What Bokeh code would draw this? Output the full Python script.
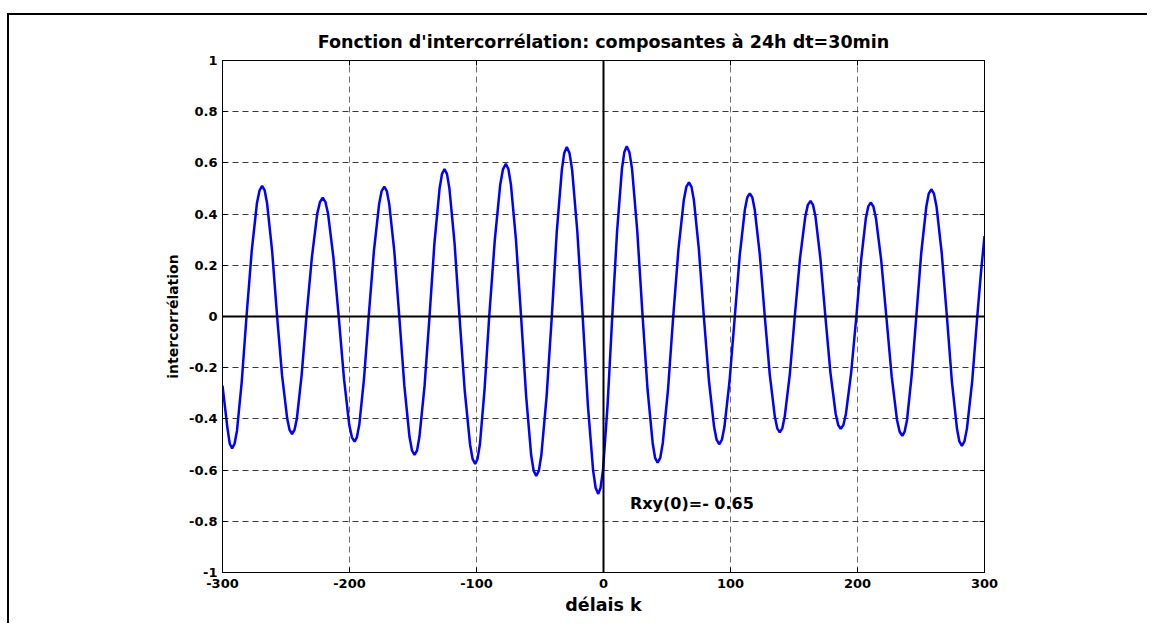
from bokeh.plotting import figure
from bokeh.models import Range1d, FixedTicker, LinearAxis, Span, Label
from bokeh.embed import file_html
from bokeh.resources import INLINE

# ---- data ----
k = [-300, -296.2, -294.3, -292.4, -290.5, -288.6, -284.9, -281.1, -277.0, -272.9,
     -270.8, -268.8, -266.8, -264.9, -260.9, -257.0, -253.1, -249.1, -247.2, -245.2,
     -243.3, -241.4, -237.7, -233.9, -229.6, -225.4, -223.2, -221.1, -219.0, -216.9,
     -212.7, -208.5, -204.3, -200.2, -198.1, -196.0, -194.2, -192.3, -188.6, -184.9,
     -180.8, -176.7, -174.7, -172.6, -170.6, -168.7, -164.7, -160.8, -156.8, -152.8,
     -150.8, -148.8, -146.8, -144.9, -140.9, -137.0, -133.1, -129.1, -127.2, -125.2,
     -123.2, -121.3, -117.3, -113.4, -109.3, -105.1, -103.1, -101.0, -99.2, -97.3,
     -93.7, -90.0, -85.6, -81.3, -79.1, -76.9, -74.9, -72.9, -68.9, -64.9,
     -60.9, -57.0, -55.0, -53.0, -50.9, -48.9, -44.8, -40.7, -36.8, -32.8,
     -30.9, -28.9, -26.8, -24.7, -20.6, -16.4, -12.3, -8.2, -6.2, -4.1,
     -2.3, -0.4, 3.2, 6.9, 10.7, 14.5, 16.4, 18.3, 20.4, 22.5,
     26.6, 30.8, 34.7, 38.7, 40.6, 42.6, 44.7, 46.7, 50.8, 54.9,
     59.0, 63.2, 65.2, 67.3, 69.3, 71.2, 75.1, 79.0, 83.0, 87.1,
     89.1, 91.1, 93.2, 95.2, 99.3, 103.4, 107.3, 111.3, 113.2, 115.2,
     117.2, 119.1, 123.1, 127.0, 130.9, 134.9, 136.8, 138.8, 140.8, 142.7,
     146.7, 150.6, 154.7, 158.9, 160.9, 163.0, 165.0, 166.9, 170.8, 174.7,
     178.7, 182.8, 184.8, 186.8, 188.9, 190.9, 195.0, 199.1, 202.9, 206.6,
     208.5, 210.4, 212.5, 214.5, 218.6, 222.7, 226.9, 231.1, 233.2, 235.3,
     237.1, 239.0, 242.6, 246.3, 250.2, 254.2, 256.1, 258.1, 260.2, 262.2,
     266.3, 270.4, 274.3, 278.3, 280.2, 282.2, 284.2, 286.2, 290.3, 294.3,
     297.2, 300.0]

rxy = [-0.270, -0.432, -0.497, -0.515, -0.497, -0.446, -0.258, 0.000, 0.255, 0.442,
       0.493, 0.510, 0.493, 0.442, 0.255, 0.000, -0.230, -0.397, -0.443, -0.459,
       -0.443, -0.397, -0.230, 0.000, 0.232, 0.402, 0.448, 0.464, 0.448, 0.402,
       0.232, 0.000, -0.245, -0.423, -0.472, -0.489, -0.472, -0.423, -0.245, 0.000,
       0.254, 0.439, 0.490, 0.507, 0.490, 0.439, 0.254, 0.000, -0.271, -0.469,
       -0.523, -0.541, -0.523, -0.469, -0.271, 0.000, 0.288, 0.499, 0.556, 0.576,
       0.556, 0.499, 0.288, 0.000, -0.288, -0.499, -0.556, -0.576, -0.556, -0.499,
       -0.288, 0.000, 0.298, 0.516, 0.576, 0.596, 0.576, 0.516, 0.298, 0.000,
       -0.312, -0.540, -0.602, -0.623, -0.602, -0.540, -0.312, 0.000, 0.331, 0.573,
       0.639, 0.662, 0.639, 0.573, 0.331, 0.000, -0.347, -0.600, -0.669, -0.693,
       -0.669, -0.600, -0.347, 0.000, 0.333, 0.576, 0.642, 0.665, 0.642, 0.576,
       0.333, 0.000, -0.286, -0.494, -0.552, -0.571, -0.552, -0.494, -0.286, 0.000,
       0.262, 0.454, 0.506, 0.524, 0.506, 0.454, 0.262, 0.000, -0.250, -0.432,
       -0.482, -0.499, -0.482, -0.432, -0.250, 0.000, 0.241, 0.417, 0.465, 0.481,
       0.465, 0.417, 0.241, 0.000, -0.226, -0.391, -0.437, -0.452, -0.437, -0.391,
       -0.226, 0.000, 0.226, 0.391, 0.436, 0.451, 0.436, 0.391, 0.226, 0.000,
       -0.220, -0.380, -0.424, -0.439, -0.424, -0.380, -0.220, 0.000, 0.223, 0.385,
       0.430, 0.445, 0.430, 0.385, 0.223, 0.000, -0.233, -0.404, -0.450, -0.466,
       -0.450, -0.404, -0.233, 0.000, 0.249, 0.430, 0.480, 0.497, 0.480, 0.430,
       0.249, 0.000, -0.253, -0.437, -0.488, -0.505, -0.488, -0.437, -0.253, 0.000,
       0.170, 0.314]

x_ticks = [-300, -200, -100, 0, 100, 200, 300]
x_tick_labels = ["-300", "-200", "-100", "0", "100", "200", "300"]
y_ticks = [-1, -0.8, -0.6, -0.4, -0.2, 0, 0.2, 0.4, 0.6, 0.8, 1]
y_tick_labels = ["-1", "-0.8", "-0.6", "-0.4", "-0.2", "0", "0.2", "0.4", "0.6", "0.8", "1"]

title_text = "Fonction d'intercorrélation: composantes à 24h dt=30min"
x_label = "délais k"
y_label = "intercorrélation"
note_text = "Rxy(0)=- 0.65"
note_x = 20.8
note_y = -0.732

FONT = "DejaVu Sans"

# canvas is shifted by the outer window border (left 7+2 px, top 13+2 px)
p = figure(width=1140, height=610, output_backend="svg", toolbar_location=None,
           x_range=Range1d(-300, 300), y_range=Range1d(-1, 1),
           min_border_left=213, min_border_right=165, min_border_top=45, min_border_bottom=53,
           background_fill_color="white", border_fill_color="white")
p.styles = {"margin-left": "9px", "margin-top": "15px",
            "box-shadow": "-2px -2px 0px 0px black"}

p.title.text = title_text
p.title.align = "center"
p.title.text_font = FONT
p.title.text_font_style = "bold"
p.title.text_font_size = "17.5px"
p.title.text_color = "black"
p.title.standoff = 17

p.outline_line_color = "black"
p.outline_line_width = 1
p.outline_line_alpha = 1

# grid
p.xgrid.ticker = FixedTicker(ticks=x_ticks)
p.ygrid.ticker = FixedTicker(ticks=y_ticks)
p.xgrid.grid_line_color = "#6e6e6e"
p.ygrid.grid_line_color = "#3a3a3a"
p.xgrid.grid_line_dash = "6 4"
p.ygrid.grid_line_dash = "6 4"
p.xgrid.grid_line_width = 1
p.ygrid.grid_line_width = 1

def style_axis(ax, show_labels=True):
    ax.axis_line_color = "black"
    ax.axis_line_width = 1
    ax.major_tick_in = 5
    ax.major_tick_out = 0
    ax.major_tick_line_color = "black"
    ax.minor_tick_line_color = None
    ax.major_label_text_font = FONT
    ax.major_label_text_font_style = "bold"
    ax.major_label_text_font_size = "13px"
    ax.major_label_text_color = "black"
    ax.axis_label_text_font = FONT
    ax.axis_label_text_font_style = "bold"
    ax.axis_label_text_color = "black"
    if not show_labels:
        ax.major_label_text_color = None

xa = p.xaxis[0]
xa.ticker = FixedTicker(ticks=x_ticks)
style_axis(xa)
xa.major_label_overrides = {t: s for t, s in zip(x_ticks, x_tick_labels)}
xa.major_label_standoff = 6
xa.axis_label = x_label
xa.axis_label_text_font_size = "17.5px"
xa.axis_label_standoff = 4

ya = p.yaxis[0]
ya.ticker = FixedTicker(ticks=y_ticks)
style_axis(ya)
ya.major_label_overrides = {t: s for t, s in zip(y_ticks, y_tick_labels)}
ya.major_label_standoff = 5
ya.axis_label = y_label
ya.axis_label_text_font_size = "14px"
ya.axis_label_standoff = 5

top_ax = LinearAxis(ticker=FixedTicker(ticks=x_ticks), major_label_standoff=0)
style_axis(top_ax, False)
top_ax.major_label_text_font_size = "0px"
p.add_layout(top_ax, "above")

right_ax = LinearAxis(ticker=FixedTicker(ticks=y_ticks))
style_axis(right_ax, False)
right_ax.major_label_text_font_size = "0px"
p.add_layout(right_ax, "right")

# zero lines
p.add_layout(Span(location=0, dimension="width", line_color="black", line_width=2))
p.add_layout(Span(location=0, dimension="height", line_color="black", line_width=2))

# curve
p.line(k, rxy, line_color="#0000ff", line_width=2.5)

# annotation
p.add_layout(Label(x=note_x, y=note_y, text=note_text, text_font=FONT, text_font_style="bold",
                   text_font_size="16px", text_color="black", text_baseline="alphabetic"))

open("out.html", "w").write(file_html(p, INLINE))
